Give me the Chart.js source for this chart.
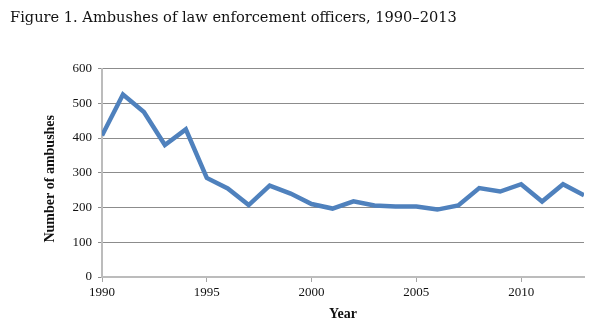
<!DOCTYPE html>
<html>
<head>
<meta charset="utf-8">
<script src="https://cdn.jsdelivr.net/npm/chart.js@4.4.0/dist/chart.umd.min.js"></script>
<style>
  html, body { margin: 0; padding: 0; background: #ffffff; }
  #wrap { width: 613px; height: 333px; position: relative; }
</style>
</head>
<body>
<div id="wrap"><canvas id="c" width="613" height="333"></canvas></div>
<script>
const years = [1990,1991,1992,1993,1994,1995,1996,1997,1998,1999,2000,2001,2002,2003,2004,2005,2006,2007,2008,2009,2010,2011,2012,2013];
const ambushes = [407,525,475,380,425,285,255,207,263,240,210,197,218,206,203,203,194,206,256,246,267,217,267,235];
const yTicks = [0,100,200,300,400,500,600];
const xTicks = [1990,1995,2000,2005,2010];
const titleText = 'Figure 1. Ambushes of law enforcement officers, 1990\u20132013';
const yTitle = 'Number of ambushes';
const xTitle = 'Year';

const points = years.map((y, i) => ({x: y, y: ambushes[i]}));

// Draws the y-axis title as rotated text, slightly below the plot's vertical centre as in the reference
const yTitlePlugin = {
  id: 'yTitle',
  afterDraw(chart) {
    const ctx = chart.ctx;
    const area = chart.chartArea;
    ctx.save();
    ctx.translate(50, (area.top + area.bottom) / 2 + 6);
    ctx.rotate(-Math.PI / 2);
    ctx.font = 'bold 14px "Liberation Serif"';
    ctx.fillStyle = '#111';
    ctx.textAlign = 'center';
    ctx.textBaseline = 'middle';
    ctx.fillText(yTitle, 0, 0);
    ctx.restore();
  }
};

new Chart(document.getElementById('c'), {
  type: 'line',
  data: {
    datasets: [{
      data: points,
      borderColor: '#4F81BD',
      borderWidth: 4.5,
      pointRadius: 0,
      tension: 0,
      fill: false
    }]
  },
  plugins: [yTitlePlugin],
  options: {
    responsive: false,
    animation: false,
    layout: { padding: { left: 10, right: 29, top: 0, bottom: 0 } },
    plugins: {
      legend: { display: false },
      tooltip: { enabled: false },
      title: {
        display: true,
        text: titleText,
        align: 'start',
        color: '#111',
        font: { family: 'DejaVu Serif', size: 14.6, weight: 'normal' },
        padding: { top: 9, bottom: 42 }
      }
    },
    scales: {
      x: {
        type: 'linear',
        min: 1990,
        max: 2013,
        afterBuildTicks: (s) => { s.ticks = xTicks.map(v => ({value: v})); },
        ticks: {
          color: '#111',
          font: { family: 'Liberation Serif', size: 13 },
          padding: 3,
          maxRotation: 0,
          callback: (v) => String(v)
        },
        grid: { drawOnChartArea: false, drawTicks: true, tickLength: 5, color: '#a6a6a6', lineWidth: 1 },
        border: { display: true, color: '#bcbcbc', width: 2 },
        title: {
          display: true,
          text: xTitle,
          color: '#111',
          font: { family: 'Liberation Serif', size: 14, weight: 'bold' },
          padding: { top: 2, bottom: 10 }
        },
        afterFit: (s) => { s.height = 56; }
      },
      y: {
        type: 'linear',
        min: 0,
        max: 600,
        afterBuildTicks: (s) => { s.ticks = yTicks.map(v => ({value: v})); },
        ticks: {
          color: '#111',
          font: { family: 'Liberation Serif', size: 13 },
          padding: 6
        },
        grid: { color: '#8c8c8c', lineWidth: 1, drawTicks: true, tickLength: 4 },
        border: { display: true, color: '#bcbcbc', width: 2 },
        title: { display: false },
        afterFit: (s) => { s.width = 92; }
      }
    }
  }
});
</script>
</body>
</html>
